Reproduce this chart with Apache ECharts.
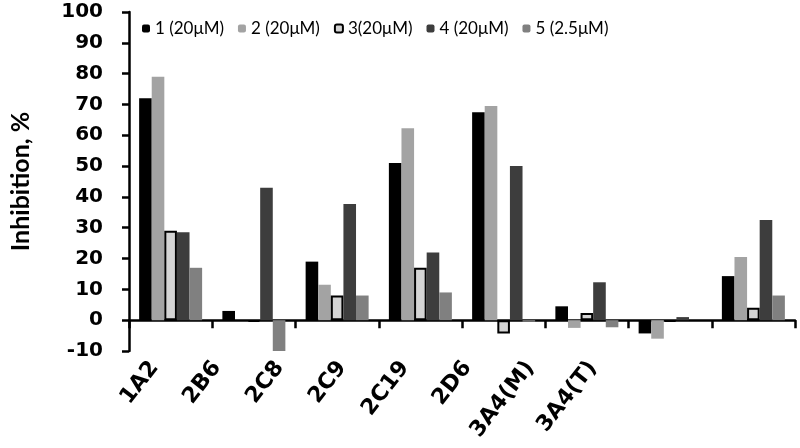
<!DOCTYPE html>
<html>
<head>
<meta charset="utf-8">
<script src="https://cdn.jsdelivr.net/npm/echarts@6/dist/echarts.min.js"></script>
<style>
html,body{margin:0;padding:0;background:#fff;}
#chart{width:800px;height:448px;}
</style>
</head>
<body>
<div id="chart"></div>
<script>
// 数据
var categories = ['1A2', '2B6', '2C8', '2C9', '2C19', '2D6', '3A4(M)', '3A4(T)'];
var seriesNames = ['1 (20μM)', '2 (20μM)', '3(20μM)', '4 (20μM)', '5 (2.5μM)'];
var s1 = [72, 3, 19, 51, 67.5, 4.5, -4.3, 14.3];
var s2 = [79, 0, 11.5, 62.3, 69.5, -2.5, -6, 20.5];
var s3 = [29, -0.5, 8, 17, -4.3, 2.3, -0.5, 4];
var s4 = [28.5, 43, 37.7, 22, 50, 12.3, 1, 32.5];
var s5 = [17, -10.5, 8, 9, -0.5, -2.3, 0, 8];
var yTicks = { min: -10, max: 100, interval: 10 };

var font = 'Lato';
var wideFont = 'DejaVu Sans';
var colors = ['#000000', '#a3a3a3', '#d4d4d4', '#3d3d3d', '#808080'];
var values = [s1, s2, s3, s4, s5];

var series = [];
for (var i = 0; i < values.length; i++) {
    series.push({
        name: seriesNames[i],
        type: 'bar',
        xAxisIndex: 0,
        yAxisIndex: 0,
        barWidth: 12.6,
        barGap: '0%',
        data: values[i],
        itemStyle: i == 2
            ? { color: colors[i], borderColor: '#000', borderWidth: 2 }
            : { color: colors[i] }
    });
}

var chart = echarts.init(document.getElementById('chart'));
var option = {
    animation: false,
    backgroundColor: '#fff',
    legend: {
        top: 15,
        left: 137,
        itemWidth: 8,
        itemHeight: 8,
        itemGap: 14,
        data: seriesNames,
        textStyle: { fontFamily: font, fontSize: 17, color: '#000' }
    },
    grid: [
        { left: 125, right: 5, top: 12, bottom: 97 },
        // 只用来放类目标签
        { left: 123, right: 176, top: 12, bottom: 90 }
    ],
    xAxis: [
        {
            type: 'category',
            gridIndex: 0,
            data: categories,
            axisLine: { onZero: true, lineStyle: { color: '#000', width: 2.5 } },
            axisTick: { show: true, length: 8, lineStyle: { color: '#000', width: 2.5 } },
            axisLabel: { show: false },
            splitLine: { show: false }
        },
        {
            type: 'category',
            gridIndex: 1,
            data: categories,
            axisLine: { show: false },
            axisTick: { show: false },
            axisLabel: {
                rotate: 52,
                margin: 6,
                fontFamily: wideFont,
                fontWeight: 'bold',
                fontSize: 22,
                color: '#000'
            }
        }
    ],
    yAxis: [
        {
            type: 'value',
            gridIndex: 0,
            min: yTicks.min,
            max: yTicks.max,
            interval: yTicks.interval,
            name: 'Inhibition, %',
            nameLocation: 'middle',
            nameGap: 96,
            nameTextStyle: { fontFamily: font, fontWeight: 'bold', fontSize: 25, color: '#000' },
            axisLine: { show: true, lineStyle: { color: '#000', width: 2.5 } },
            axisTick: { show: true, length: 7, lineStyle: { color: '#000', width: 2.5 } },
            axisLabel: { margin: 26, fontFamily: wideFont, fontWeight: 'bold', fontSize: 20, color: '#000' },
            splitLine: { show: false }
        },
        {
            type: 'value',
            gridIndex: 1,
            show: false
        }
    ],
    series: series
};
chart.setOption(option);
</script>
</body>
</html>
